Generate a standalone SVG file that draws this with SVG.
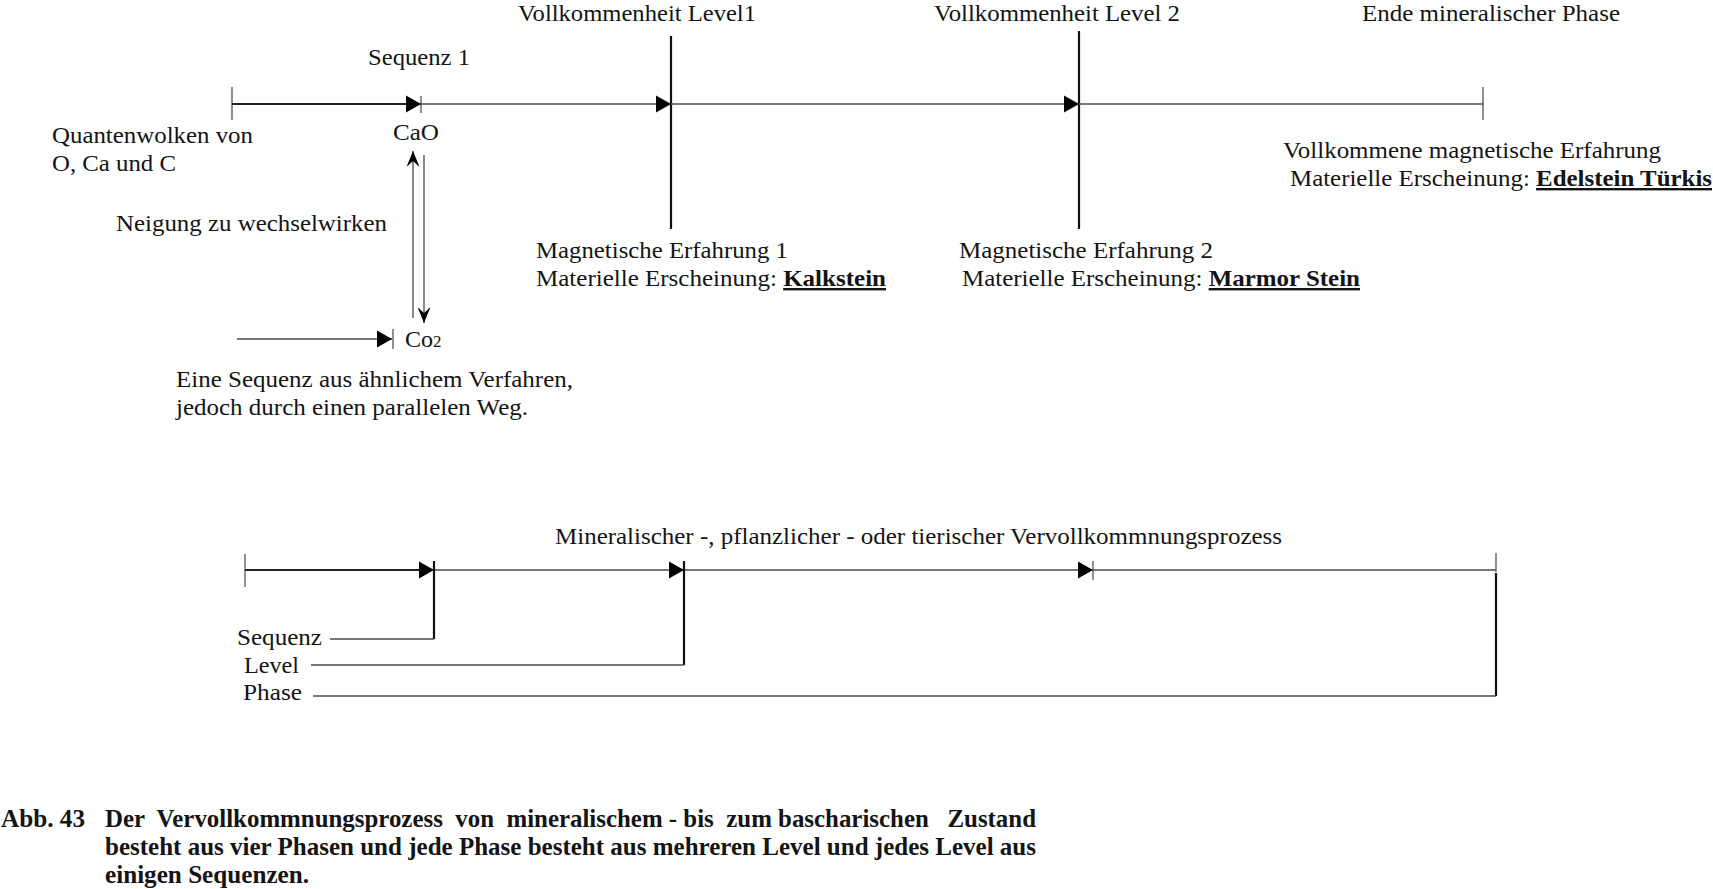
<svg xmlns="http://www.w3.org/2000/svg" width="1713" height="889" viewBox="0 0 1713 889">
<style>
text{font-family:"Liberation Serif","Times New Roman",serif;font-size:24px;fill:#141414}
.b{font-weight:bold;text-decoration:underline}
.cap{font-weight:bold;font-size:25px}
.thin{stroke:#4a4a4a;stroke-width:1.3;fill:none}
.thick{stroke:#222;stroke-width:2.2;fill:none}
.vert{stroke:#111;stroke-width:2.2;fill:none}
.tick{stroke:#555;stroke-width:1.3;fill:none}
</style>
<defs>
<marker id="tri" markerUnits="userSpaceOnUse" markerWidth="16" markerHeight="18" refX="15" refY="9" orient="auto" viewBox="0 0 16 18">
<path d="M0,0.5 L15,9 L0,17.5 z" fill="#000"/>
</marker>
<marker id="stl" markerUnits="userSpaceOnUse" markerWidth="17" markerHeight="13" refX="16" refY="6.5" orient="auto" viewBox="0 0 17 13">
<path d="M0,0 L16,6.5 L0,13 L6,6.5 z" fill="#000"/>
</marker>
</defs>

<g id="connectors">
<line class="tick" x1="232" y1="87" x2="232" y2="120"/>
<line class="thick" x1="232" y1="104" x2="421" y2="104" marker-end="url(#tri)"/>
<line class="tick" x1="421" y1="96" x2="421" y2="113"/>
<line class="thin" x1="421" y1="104" x2="671" y2="104" marker-end="url(#tri)"/>
<line class="vert" x1="671" y1="36" x2="671" y2="229"/>
<line class="thin" x1="671" y1="104" x2="1079" y2="104" marker-end="url(#tri)"/>
<line class="vert" x1="1079" y1="31" x2="1079" y2="229"/>
<line class="thin" x1="1079" y1="104" x2="1483" y2="104"/>
<line class="tick" x1="1483" y1="87" x2="1483" y2="120"/>
<line class="thin" x1="413" y1="318" x2="413" y2="151" marker-end="url(#stl)"/>
<line class="thin" x1="424" y1="155" x2="424" y2="323" marker-end="url(#stl)"/>
<line class="thin" x1="237" y1="339" x2="392" y2="339" marker-end="url(#tri)"/>
<line class="tick" x1="393" y1="329" x2="393" y2="349"/>
<line class="tick" x1="245" y1="554" x2="245" y2="587"/>
<line class="thick" x1="245" y1="570" x2="434" y2="570" marker-end="url(#tri)"/>
<line class="thin" x1="434" y1="570" x2="684" y2="570" marker-end="url(#tri)"/>
<line class="thin" x1="684" y1="570" x2="1093" y2="570" marker-end="url(#tri)"/>
<line class="tick" x1="1093" y1="561" x2="1093" y2="580"/>
<line class="thin" x1="1093" y1="570" x2="1496" y2="570"/>
<line class="tick" x1="1496" y1="553" x2="1496" y2="572"/>
<polyline class="vert" points="434,561 434,639"/>
<polyline class="thin" points="330,639 434,639"/>
<polyline class="vert" points="684,561 684,665"/>
<polyline class="thin" points="311,665 684,665"/>
<polyline class="vert" points="1496,573 1496,696"/>
<polyline class="thin" points="313,696 1496,696"/>
</g>

<g id="n-level1-title"><text x="518" y="21" textLength="238" lengthAdjust="spacingAndGlyphs">Vollkommenheit Level1</text></g>
<g id="n-level2-title"><text x="934" y="21" textLength="246" lengthAdjust="spacingAndGlyphs">Vollkommenheit Level 2</text></g>
<g id="n-end-title"><text x="1362" y="21" textLength="258" lengthAdjust="spacingAndGlyphs">Ende mineralischer Phase</text></g>
<g id="n-seq1"><text x="368" y="65" textLength="102" lengthAdjust="spacingAndGlyphs">Sequenz 1</text></g>
<g id="n-cao"><text x="393" y="140" textLength="46" lengthAdjust="spacingAndGlyphs">CaO</text></g>
<g id="n-quanten">
<text x="52" y="143" textLength="201" lengthAdjust="spacingAndGlyphs">Quantenwolken von</text>
<text x="52" y="171" textLength="124" lengthAdjust="spacingAndGlyphs">O, Ca und C</text>
</g>
<g id="n-neigung"><text x="116" y="231" textLength="271" lengthAdjust="spacingAndGlyphs">Neigung zu wechselwirken</text></g>
<g id="n-co2"><text x="405" y="347">Co<tspan font-size="17">2</tspan></text></g>
<g id="n-parallel">
<text x="176" y="387" textLength="397" lengthAdjust="spacingAndGlyphs">Eine Sequenz aus ähnlichem Verfahren,</text>
<text x="176" y="415" textLength="352" lengthAdjust="spacingAndGlyphs">jedoch durch einen parallelen Weg.</text>
</g>
<g id="n-mag1">
<text x="536" y="258" textLength="252" lengthAdjust="spacingAndGlyphs">Magnetische Erfahrung 1</text>
<text x="536" y="286" textLength="350" lengthAdjust="spacingAndGlyphs">Materielle Erscheinung: <tspan class="b">Kalkstein</tspan></text>
</g>
<g id="n-mag2">
<text x="959" y="258" textLength="254" lengthAdjust="spacingAndGlyphs">Magnetische Erfahrung 2</text>
<text x="962" y="286" textLength="398" lengthAdjust="spacingAndGlyphs">Materielle Erscheinung: <tspan class="b">Marmor Stein</tspan></text>
</g>
<g id="n-mag3">
<text x="1283" y="158" textLength="378" lengthAdjust="spacingAndGlyphs">Vollkommene magnetische Erfahrung</text>
<text x="1290" y="186" textLength="422" lengthAdjust="spacingAndGlyphs">Materielle Erscheinung: <tspan class="b">Edelstein Türkis</tspan></text>
</g>
<g id="n-process"><text x="555" y="544" textLength="727" lengthAdjust="spacingAndGlyphs">Mineralischer -, pflanzlicher - oder tierischer Vervollkommnungsprozess</text></g>
<g id="n-sequenz"><text x="237" y="645" textLength="85" lengthAdjust="spacingAndGlyphs">Sequenz</text></g>
<g id="n-level"><text x="244" y="673" textLength="55" lengthAdjust="spacingAndGlyphs">Level</text></g>
<g id="n-phase"><text x="243" y="700" textLength="59" lengthAdjust="spacingAndGlyphs">Phase</text></g>
<g id="caption">
<text class="cap" x="1" y="827" textLength="84" lengthAdjust="spacingAndGlyphs">Abb. 43</text>
<text class="cap" x="105" y="827" textLength="931" lengthAdjust="spacingAndGlyphs" style="white-space:pre">Der  Vervollkommnungsprozess  von  mineralischem - bis  zum bascharischen   Zustand</text>
<text class="cap" x="105" y="855" textLength="931" lengthAdjust="spacingAndGlyphs">besteht aus vier Phasen und jede Phase besteht aus mehreren Level und jedes Level aus</text>
<text class="cap" x="105" y="883" textLength="204" lengthAdjust="spacingAndGlyphs">einigen Sequenzen.</text>
</g>
</svg>
